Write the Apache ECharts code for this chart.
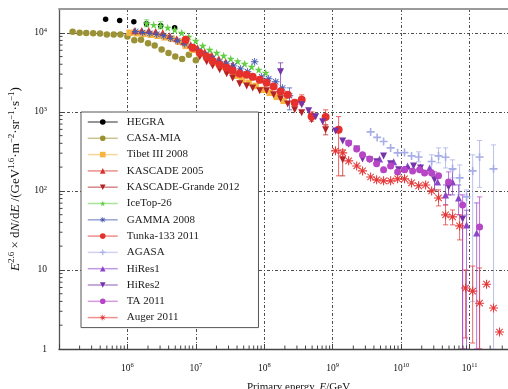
<!DOCTYPE html>
<html>
<head>
<meta charset="utf-8">
<script src="https://cdn.jsdelivr.net/npm/echarts@6/dist/echarts.min.js"></script>
<style>
  html, body { margin: 0; padding: 0; background: #fff; }
  #chart { width: 508px; height: 389px; }
</style>
</head>
<body>
<div id="chart"></div>
<script>
// All-particle cosmic-ray spectrum, flux scaled by E^2.6 (GeV^1.6 m^-2 sr^-1 s^-1)

const hegraE = [4.8e5, 7.7e5, 1.24e6, 1.9e6, 3.06e6, 4.9e6];
const hegraF = [14800, 14300, 13800, 13000, 12300, 11600];

const casaE = [1.58e5, 2.0e5, 2.5e5, 3.16e5, 3.98e5, 5.0e5, 6.3e5, 7.9e5, 1.0e6, 1.26e6, 1.58e6, 2.0e6, 2.5e6, 3.16e6, 3.98e6, 5.0e6, 6.3e6, 7.9e6, 1.0e7];
const casaF = [10290, 10000, 9910, 9860, 9800, 9490, 9490, 9490, 8980, 8040, 8150, 7360, 6900, 6150, 5540, 5010, 4660, 5270, 4490];

const tibetE = [1.08e6, 1.37e6, 1.73e6, 2.19e6, 2.77e6, 3.51e6, 4.44e6, 5.61e6, 7.11e6, 8.99e6, 1.14e7, 1.44e7, 1.82e7, 2.31e7, 2.92e7, 3.69e7, 4.67e7, 5.91e7, 7.48e7, 9.47e7, 1.20e8, 1.52e8, 1.92e8];
const tibetF = [10000, 9860, 9710, 9440, 9160, 8770, 8400, 7690, 6840, 6090, 5420, 4830, 4170, 3710, 3300, 2860, 2540, 2330, 2130, 1900, 1740, 1550, 1380];

const kascadeE = [1.28e6, 1.62e6, 2.05e6, 2.59e6, 3.28e6, 4.15e6, 5.25e6, 6.64e6, 8.41e6, 1.06e7, 1.35e7, 1.70e7, 2.16e7, 2.73e7, 3.45e7, 4.37e7, 5.53e7, 7.0e7, 8.86e7];
const kascadeF = [10600, 10700, 10700, 10400, 10000, 9160, 8400, 7690, 7050, 6460, 5750, 5270, 4690, 4300, 3930, 3400, 3120, 2770, 2540];

const grandeE = [1.14e7, 1.44e7, 1.76e7, 2.23e7, 2.82e7, 3.45e7, 4.37e7, 5.53e7, 6.77e7, 8.57e7, 1.08e8, 1.37e8, 1.73e8, 2.20e8, 2.78e8, 3.52e8, 4.92e8, 7.88e8, 1.40e9];
const grandeF = [4970, 4300, 3820, 3400, 3030, 2690, 2260, 2130, 2010, 1850, 1850, 1640, 1460, 1260, 1060, 971, 792, 592, 247];
const grandeErr = [[7.88e8, 512, 684], [1.40e9, 155, 330]];

const icetopE = [1.91e6, 2.42e6, 3.06e6, 3.88e6, 4.91e6, 6.21e6, 7.86e6, 9.95e6, 1.26e7, 1.59e7, 2.02e7, 2.55e7, 3.23e7, 4.09e7, 5.17e7, 6.54e7, 8.28e7, 1.05e8];
const icetopF = [13200, 12600, 12300, 11600, 10900, 10000, 8900, 7920, 6840, 6090, 5580, 5120, 4690, 4360, 4050, 3710, 3400, 3120];
const icetopErr = [[1.91e6, 11900, 14600], [3.06e6, 11200, 13800]];

const gammaE = [1.32e6, 1.67e6, 2.12e6, 2.68e6, 3.39e6, 4.29e6, 5.43e6, 6.87e6, 8.69e6, 1.10e7, 1.39e7, 1.76e7, 2.23e7, 2.82e7, 3.57e7, 4.52e7, 5.71e7, 7.23e7, 9.16e7, 1.16e8, 1.47e8, 1.85e8, 2.34e8];
const gammaF = [10400, 10100, 9860, 9580, 9160, 8510, 7920, 7260, 6550, 5910, 5270, 4750, 4300, 4050, 3820, 3500, 3210, 4300, 2770, 2620, 2400, 2010, 1600];
const gammaErr = [[2.34e8, 1060, 2010]];

const tunkaE = [7.1e6, 9.0e6, 1.14e7, 1.44e7, 1.76e7, 2.23e7, 2.82e7, 3.45e7, 4.37e7, 5.53e7, 6.77e7, 8.57e7, 1.08e8, 1.37e8, 1.73e8, 2.20e8, 2.78e8, 3.52e8, 4.92e8, 7.88e8, 1.22e9];
const tunkaF = [8150, 6460, 5580, 4970, 4360, 3930, 3600, 3300, 3030, 2940, 2770, 2540, 2330, 2090, 1810, 1640, 1300, 1420, 873, 858, 592];
const tunkaErr = [[3.52e8, 1230, 1640], [4.92e8, 760, 1000], [7.88e8, 684, 1060], [1.22e9, 155, 870]];

const agasaE = [3.58e9, 4.46e9, 5.54e9, 7.02e9, 8.88e9, 1.12e10, 1.42e10, 1.80e10, 2.79e10, 3.52e10, 4.46e10, 5.64e10, 7.15e10, 9.04e10, 1.11e11, 1.40e11, 2.24e11];
const agasaF = [558, 475, 421, 350, 303, 305, 277, 269, 235, 277, 267, 190, 146, 84, 179, 269, 190];
const agasaErr = [[1.80e10, 233, 312], [2.79e10, 185, 286], [3.52e10, 226, 350], [4.46e10, 195, 350], [5.64e10, 146, 247], [7.15e10, 89, 213], [9.04e10, 50, 103], [1.11e11, 4, 286], [1.40e11, 111, 434], [2.24e11, 1, 382]];

const hires1E = [4.84e9, 7.76e9, 1.24e10, 1.92e10, 2.61e10, 3.41e10, 4.46e10, 5.64e10, 6.91e10, 9.04e10, 1.27e11];
const hires1F = [254, 233, 207, 201, 195, 130, 89, 130, 81.5, 37, 29.4];
const hires1Err = [[4.46e10, 66.5, 119], [5.64e10, 89, 185], [6.91e10, 50, 119], [9.04e10, 1, 57], [1.27e11, 1, 70.5]];

const hires2E = [1.73e8, 3.52e8, 4.45e8, 5.63e8, 7.13e8, 1.10e9, 1.40e9, 1.71e9, 2.24e9, 2.73e9, 3.46e9, 4.38e9, 5.54e9, 7.02e9, 9.18e9, 1.20e10, 1.52e10, 1.92e10, 3.08e10, 4.93e10, 7.91e10];
const hires2F = [3210, 1230, 1030, 865, 747, 574, 429, 393, 340, 254, 247, 233, 277, 220, 185, 185, 207, 195, 138, 112, 44];
const hires2Err = [[1.73e8, 1740, 4170], [3.08e10, 103, 174], [4.93e10, 89, 138], [7.91e10, 1, 66.5]];

const taE = [1.71e9, 2.24e9, 2.73e9, 3.46e9, 4.38e9, 5.54e9, 7.02e9, 8.88e9, 1.12e10, 1.47e10, 1.86e10, 2.20e10, 2.79e10, 3.52e10, 4.93e10, 7.91e10, 1.40e11];
const taF = [405, 340, 286, 254, 220, 185, 207, 174, 185, 179, 185, 169, 169, 155, 130, 66.5, 35];
const taErr = [[4.93e10, 89, 174], [7.91e10, 1, 89], [1.40e11, 1, 84]];

const augerE = [1.10e9, 1.40e9, 1.71e9, 2.24e9, 2.73e9, 3.58e9, 4.38e9, 5.54e9, 7.02e9, 8.88e9, 1.12e10, 1.42e10, 1.80e10, 2.28e10, 2.79e10, 3.52e10, 4.46e10, 5.64e10, 7.15e10, 8.73e10, 1.11e11, 1.40e11, 1.77e11, 2.24e11, 2.74e11];
const augerF = [321, 303, 240, 207, 179, 150, 138, 134, 134, 142, 142, 126, 116, 119, 100, 81.5, 49.7, 46.9, 36.1, 5.9, 5.4, 3.8, 6.6, 3.3, 1.64];
const augerErr = [[3.52e10, 64.6, 103], [4.46e10, 37.2, 66.5], [5.64e10, 37.2, 57.4], [7.15e10, 24, 49.7], [8.73e10, 1.38, 10], [1.11e11, 1.19, 11.2], [1.40e11, 1, 10.6]];

// Marker outlines
const STAR = 'path://M5,0 L6.2,3.6 L10,3.6 L6.9,5.8 L8.1,9.5 L5,7.3 L1.9,9.5 L3.1,5.8 L0,3.6 L3.8,3.6 Z';
const PLUS = 'path://M4,0 H6 V4 H10 V6 H6 V10 H4 V6 H0 V4 H4 Z';
const ASTER = 'path://M0,4.4 L10,4.4 L10,5.6 L0,5.6 Z M4.4,0 L5.6,0 L5.6,10 L4.4,10 Z M1,1.8 L1.8,1 L9,8.2 L8.2,9 Z M8.2,1 L9,1.8 L1.8,9 L1,8.2 Z';

const serif = "'Liberation Serif', 'DejaVu Serif', serif";

const sets = [
  { name: 'HEGRA', E: hegraE, F: hegraF, color: '#000000', symbol: 'circle', size: 5.5 },
  { name: 'CASA-MIA', E: casaE, F: casaF, color: '#9a9235', symbol: 'circle', size: 6.5 },
  { name: 'Tibet III 2008', E: tibetE, F: tibetF, color: '#f6b440', symbol: 'rect', size: 6.5 },
  { name: 'KASCADE 2005', E: kascadeE, F: kascadeF, color: '#d7352f', symbol: 'triangle', size: 7 },
  { name: 'KASCADE-Grande 2012', E: grandeE, F: grandeF, err: grandeErr, color: '#b32226', symbol: 'triangle', rotate: 180, size: 7 },
  { name: 'IceTop-26', E: icetopE, F: icetopF, err: icetopErr, color: '#62cf43', symbol: STAR, size: 8 },
  { name: 'GAMMA 2008', E: gammaE, F: gammaF, err: gammaErr, color: '#4659b3', symbol: ASTER, size: 7.5 },
  { name: 'Tunka-133 2011', E: tunkaE, F: tunkaF, err: tunkaErr, color: '#e6302b', symbol: 'circle', size: 8 },
  { name: 'AGASA', E: agasaE, F: agasaF, err: agasaErr, color: '#a7ade6', symbol: PLUS, size: 8 },
  { name: 'HiRes1', E: hires1E, F: hires1F, err: hires1Err, color: '#8b46c8', symbol: 'triangle', size: 7 },
  { name: 'HiRes2', E: hires2E, F: hires2F, err: hires2Err, color: '#7534a9', symbol: 'triangle', rotate: 180, size: 7 },
  { name: 'TA 2011', E: taE, F: taF, err: taErr, color: '#b646c6', symbol: 'circle', size: 7 },
  { name: 'Auger 2011', E: augerE, F: augerF, err: augerErr, color: '#e63838', symbol: ASTER, size: 9 }
];

// minor tick values at 2..9 x 10^k along both axes
const minorX = [];
for (let k = 5; k < 12; k++) for (let m = 2; m <= 9; m++) minorX.push([m * Math.pow(10, k), 1]);
const minorY = [];
for (let k = 0; k < 4; k++) for (let m = 2; m <= 9; m++) minorY.push([1e5, m * Math.pow(10, k)]);

function powLabel(v, skipExp, plain) {
  const l = Math.log10(v);
  const e = Math.round(l);
  if (Math.abs(l - e) > 1e-6 || e === skipExp) return '';
  if (plain && e === 0) return '{b|1}';
  if (plain && e === 1) return '{b|10}';
  return '{b|10}{s|' + e + '}';
}

const labelRich = {
  b: { fontFamily: serif, fontSize: 9.5, color: '#111', lineHeight: 12, verticalAlign: 'middle' },
  s: { fontFamily: serif, fontSize: 6.5, color: '#111', lineHeight: 7, verticalAlign: 'bottom', padding: [0, 0, 5, 0] }
};

const nameRich = {
  t: { fontFamily: serif, fontSize: 11, color: '#111', lineHeight: 14, verticalAlign: 'middle' },
  i: { fontFamily: serif, fontSize: 11, fontStyle: 'italic', color: '#111', lineHeight: 14, verticalAlign: 'middle' },
  s: { fontFamily: serif, fontSize: 7.5, color: '#111', lineHeight: 8, verticalAlign: 'bottom', padding: [0, 0, 6, 0] }
};
const yNameRich = {
  t: { fontFamily: serif, fontSize: 13, color: '#111', lineHeight: 16, verticalAlign: 'middle' },
  i: { fontFamily: serif, fontSize: 13, fontStyle: 'italic', color: '#111', lineHeight: 16, verticalAlign: 'middle' },
  s: { fontFamily: serif, fontSize: 9, color: '#111', lineHeight: 9, verticalAlign: 'bottom', padding: [0, 0, 7, 0] }
};

function errRender(params, api) {
  const x = api.value(0);
  const lo = api.coord([x, api.value(1)]);
  const hi = api.coord([x, api.value(2)]);
  const color = api.visual('color');
  const c = 2.6;
  const st = { stroke: color, lineWidth: 1, opacity: 0.75 };
  return {
    type: 'group',
    children: [
      { type: 'line', shape: { x1: lo[0], y1: lo[1], x2: hi[0], y2: hi[1] }, style: st },
      { type: 'line', shape: { x1: lo[0] - c, y1: lo[1], x2: lo[0] + c, y2: lo[1] }, style: st },
      { type: 'line', shape: { x1: hi[0] - c, y1: hi[1], x2: hi[0] + c, y2: hi[1] }, style: st }
    ]
  };
}

const series = [];
sets.forEach(function (s) {
  if (s.err) {
    series.push({
      name: s.name + ' err',
      type: 'custom',
      renderItem: errRender,
      itemStyle: { color: s.color },
      encode: { x: 0, y: [1, 2] },
      data: s.err,
      clip: true,
      silent: true,
      z: 2
    });
  }
});
sets.forEach(function (s) {
  series.push({
    name: s.name,
    type: 'line',
    data: s.E.map(function (e, i) { return [e, s.F[i]]; }),
    symbol: s.symbol,
    symbolSize: s.size,
    symbolRotate: s.rotate || 0,
    showSymbol: true,
    showAllSymbol: true,
    itemStyle: { color: s.color },
    lineStyle: { opacity: 0, width: 0 },
    silent: true,
    z: 3
  });
});

const tickStyle = { stroke: '#444', lineWidth: 1 };
series.push({
  type: 'custom',
  name: 'minor-x',
  data: minorX,
  clip: false,
  silent: true,
  z: 4,
  renderItem: function (params, api) {
    const p = api.coord([api.value(0), api.value(1)]);
    if (p[0] > 508) return null;
    return { type: 'line', shape: { x1: p[0], y1: p[1], x2: p[0], y2: p[1] - 3.5 }, style: tickStyle };
  }
});
series.push({
  type: 'custom',
  name: 'minor-y',
  data: minorY,
  clip: false,
  silent: true,
  z: 4,
  renderItem: function (params, api) {
    const p = api.coord([api.value(0), api.value(1)]);
    return { type: 'line', shape: { x1: p[0], y1: p[1], x2: p[0] + 3.5, y2: p[1] }, style: tickStyle };
  }
});

const gridLine = { show: true, lineStyle: { color: '#3a3a3a', width: 0.9, type: [3, 2, 1, 2] } };

const option = {
  animation: false,
  backgroundColor: '#ffffff',
  grid: { left: 59, right: -30, top: 9, bottom: 40, containLabel: false, outerBoundsMode: 'none' },
  legend: {
    orient: 'vertical',
    left: 81,
    top: 112,
    padding: [4, 19, 4, 6],
    itemWidth: 30,
    itemHeight: 7,
    itemGap: 4.3,
    backgroundColor: '#ffffff',
    borderColor: '#555555',
    borderWidth: 1,
    borderRadius: 0,
    textStyle: { fontFamily: serif, fontSize: 11, lineHeight: 12, color: '#222', padding: [0, 0, 0, 4] },
    lineStyle: { width: 1.5, opacity: 0.55 },
    data: sets.map(function (s) { return s.name; })
  },
  xAxis: [
    {
      type: 'log',
      logBase: 10,
      min: 1e5,
      max: 1e12,
      position: 'bottom',
      axisLine: { show: true, lineStyle: { color: '#444', width: 1.3 } },
      axisTick: { show: true, inside: true, length: 5, lineStyle: { color: '#444' } },
      axisLabel: { margin: 13, formatter: function (v) { return powLabel(v, 5, false); }, rich: labelRich },
      splitLine: gridLine,
      name: '{t|Primary energy, }{i|E}{t|/GeV}',
      nameLocation: 'middle',
      nameGap: 31,
      nameTextStyle: { rich: nameRich }
    },
    {
      type: 'log',
      logBase: 10,
      min: 1e5,
      max: 1e12,
      position: 'top',
      z: 5,
      axisLine: { show: true, lineStyle: { color: '#9a9a9a', width: 2 } },
      axisTick: { show: false },
      axisLabel: { show: false },
      splitLine: { show: false }
    }
  ],
  yAxis: {
    type: 'log',
    logBase: 10,
    min: 1,
    max: 2e4,
    axisLine: { show: true, lineStyle: { color: '#555', width: 1.3 } },
    axisTick: { show: true, inside: true, length: 5, lineStyle: { color: '#444' } },
    axisLabel: { margin: 12, formatter: function (v) { return powLabel(v, null, true); }, rich: labelRich },
    splitLine: gridLine,
    name: '{i|E}{s|2.6}{t| × d}{i|N}{t|/d}{i|E}{t| /(GeV}{s|1.6}{t|·m}{s|−2}{t|·sr}{s|−1}{t|·s}{s|−1}{t|)}',
    nameLocation: 'middle',
    nameGap: 27,
    nameTextStyle: { rich: yNameRich }
  },
  series: series
};

const chart = echarts.init(document.getElementById('chart'), null, { renderer: 'canvas' });
chart.setOption(option);
</script>
</body>
</html>
